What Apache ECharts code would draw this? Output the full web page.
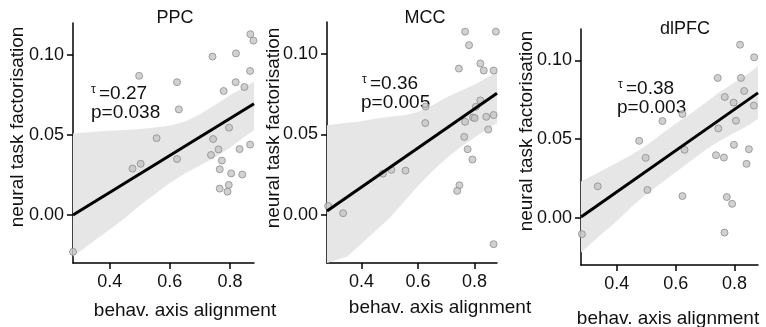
<!DOCTYPE html>
<html>
<head>
<meta charset="utf-8">
<script src="https://cdn.jsdelivr.net/npm/echarts@6/dist/echarts.min.js"></script>
<style>
html, body { margin: 0; padding: 0; background: #fff; }
#chart { width: 766px; height: 327px; }
</style>
</head>
<body>
<div id="chart"></div>
<script>
// axis ticks
const xTicks = [0.4, 0.6, 0.8];
const yTicks = [0, 0.05, 0.1];

// scatter points (behav. axis alignment, neural task factorisation)
const ppcX = [0.278, 0.476, 0.503, 0.498, 0.556, 0.624, 0.630, 0.624, 0.742, 0.744, 0.737, 0.762, 0.773, 0.766, 0.766,
  0.792, 0.796, 0.804, 0.779, 0.797, 0.820, 0.819, 0.848, 0.832, 0.841, 0.867, 0.867, 0.868, 0.878];
const ppcY = [-0.023, 0.029, 0.032, 0.087, 0.048, 0.083, 0.066, 0.035, 0.099, 0.0475, 0.0375, 0.041, 0.034, 0.0286, 0.0165,
  0.0146, 0.0188, 0.026, 0.0775, 0.0546, 0.101, 0.083, 0.080, 0.0412, 0.0253, 0.090, 0.044, 0.113, 0.109];

const mccX = [0.282, 0.335, 0.476, 0.506, 0.556, 0.626, 0.627, 0.745, 0.767, 0.781, 0.767, 0.764, 0.776, 0.793,
  0.747, 0.739, 0.795, 0.801, 0.805, 0.821, 0.821, 0.833, 0.842, 0.849, 0.868, 0.868, 0.876, 0.868];
const mccY = [0.0055, 0.001, 0.0256, 0.028, 0.0275, 0.0571, 0.0674, 0.091, 0.114, 0.1056, 0.0579, 0.0485, 0.0408, 0.0344,
  0.0184, 0.0149, 0.0606, 0.0602, 0.0672, 0.0712, 0.0942, 0.0898, 0.061, 0.0531, 0.0621, 0.0898, 0.114, -0.0183];

const dlpfcX = [0.281, 0.335, 0.476, 0.498, 0.504, 0.555, 0.623, 0.630, 0.623, 0.743, 0.745, 0.737, 0.764, 0.767,
  0.774, 0.792, 0.766, 0.797, 0.805, 0.798, 0.819, 0.822, 0.833, 0.849, 0.841, 0.867, 0.866];
const dlpfcY = [-0.0104, 0.020, 0.0489, 0.0381, 0.0177, 0.0615, 0.066, 0.0432, 0.0138, 0.0889, 0.0568, 0.0398, 0.0383, 0.0768,
  0.0132, 0.0089, -0.0094, 0.0732, 0.0617, 0.0464, 0.110, 0.0889, 0.0806, 0.0436, 0.0343, 0.102, 0.0713];

// regression line ends
const fitX = [0.278, 0.88];
const ppcFit = [0.0, 0.0695];
const mccFit = [0.0023, 0.0756];
const dlpfcFit = [0.0005, 0.0794];

// confidence band
const bandX = [0.278, 0.35, 0.4, 0.45, 0.5, 0.55, 0.6, 0.65, 0.7, 0.75, 0.8, 0.85, 0.88];
const ppcLower = [-0.026, -0.016, -0.009, -0.002, 0.006, 0.013, 0.020, 0.026, 0.031, 0.036, 0.042, 0.049, 0.053];
const ppcUpper = [0.051, 0.052, 0.0527, 0.0532, 0.0538, 0.0547, 0.0558, 0.0583, 0.063, 0.0687, 0.0748, 0.0802, 0.0835];
const mccLower = [-0.036, -0.026, -0.018, -0.010, -0.002, 0.008, 0.018, 0.027, 0.035, 0.042, 0.048, 0.054, 0.057];
const mccUpper = [0.0558, 0.0573, 0.0583, 0.0598, 0.061, 0.062, 0.064, 0.068, 0.073, 0.077, 0.081, 0.086, 0.089];
const dlpfcLower = [-0.022, -0.010, -0.002, 0.007, 0.015, 0.022, 0.029, 0.036, 0.043, 0.049, 0.054, 0.059, 0.063];
const dlpfcUpper = [0.023, 0.030, 0.035, 0.040, 0.046, 0.053, 0.060, 0.066, 0.073, 0.080, 0.086, 0.092, 0.0965];

const titles = ['PPC', 'MCC', 'dlPFC'];
const tauVals = ['0.27', '0.36', '0.38'];
const pVals = ['0.038', '0.005', '0.003'];

const FONT = '"Liberation Sans", Arial, sans-serif';
const INK = '#111';

const panels = [
  { x: ppcX, y: ppcY, fit: ppcFit, lo: ppcLower, hi: ppcUpper,
    grid: { left: 73, top: 23, width: 181, height: 240 },
    title: [175, 18], yName: [18, 127], xName: [185, 311], tau: [91, 94], p: [91, 113] },
  { x: mccX, y: mccY, fit: mccFit, lo: mccLower, hi: mccUpper,
    grid: { left: 327, top: 22, width: 170, height: 241 },
    title: [425, 18], yName: [274, 128], xName: [440, 308], tau: [362, 84], p: [361, 103] },
  { x: dlpfcX, y: dlpfcY, fit: dlpfcFit, lo: dlpfcLower, hi: dlpfcUpper,
    grid: { left: 581, top: 29, width: 177, height: 236 },
    title: [685, 29], yName: [527, 131], xName: [668, 319], tau: [618, 89], p: [617, 108] }
];

const axisLineStyle = { color: '#000', width: 1.5 };

function bandRenderer(lo, hi) {
  return function (params, api) {
    const pts = [];
    for (let i = 0; i < bandX.length; i++) pts.push(api.coord([bandX[i], hi[i]]));
    for (let i = bandX.length - 1; i >= 0; i--) pts.push(api.coord([bandX[i], lo[i]]));
    const cs = params.coordSys;
    return {
      type: 'polygon',
      shape: { points: echarts.graphic.clipPointsByRect(pts, cs) },
      style: { fill: '#e6e6e6' }
    };
  };
}

const grid = [], xAxis = [], yAxis = [], series = [], graphic = [];

panels.forEach((p, i) => {
  grid.push(p.grid);
  xAxis.push({
    gridIndex: i, type: 'value', min: 0.278, max: 0.88,
    axisLine: { onZero: false, lineStyle: axisLineStyle },
    axisTick: { length: 6, lineStyle: axisLineStyle, customValues: xTicks },
    axisLabel: { customValues: xTicks, formatter: v => v.toFixed(1), fontSize: 18, color: INK, fontFamily: FONT, margin: 10 },
    splitLine: { show: false }
  });
  yAxis.push({
    gridIndex: i, type: 'value', min: -0.03, max: 0.12,
    axisLine: { onZero: false, lineStyle: axisLineStyle },
    axisTick: { length: 6, lineStyle: axisLineStyle, customValues: yTicks },
    axisLabel: { customValues: yTicks, formatter: v => v.toFixed(2), fontSize: 18, color: INK, fontFamily: FONT, margin: 9 },
    splitLine: { show: false }
  });
  series.push({
    type: 'custom', xAxisIndex: i, yAxisIndex: i, z: 1, silent: true,
    renderItem: bandRenderer(p.lo, p.hi),
    data: [[bandX[0], p.lo[0]]]
  });
  series.push({
    type: 'scatter', xAxisIndex: i, yAxisIndex: i, z: 2,
    symbolSize: 7,
    itemStyle: { color: '#c6c6c6', borderColor: '#8c8c8c', borderWidth: 1 },
    data: p.x.map((x, k) => [x, p.y[k]])
  });
  series.push({
    type: 'line', xAxisIndex: i, yAxisIndex: i, z: 3,
    showSymbol: false, silent: true,
    lineStyle: { color: '#000', width: 3 },
    data: fitX.map((x, k) => [x, p.fit[k]])
  });

  const txt = (x, y, text, size, extra) => Object.assign({
    type: 'text', x: x, y: y,
    style: { text: text, fontSize: size, fontFamily: FONT, fill: INK, align: 'center', verticalAlign: 'middle' }
  }, extra || {});

  graphic.push(txt(p.title[0], p.title[1], titles[i], 18));
  graphic.push(txt(p.yName[0], p.yName[1], 'neural task factorisation', 19, { rotation: Math.PI / 2 }));
  graphic.push(txt(p.xName[0], p.xName[1], 'behav. axis alignment', 19));
  const tau = txt(p.tau[0], p.tau[1] - 4, 'τ', 12);
  tau.style.align = 'left';
  graphic.push(tau);
  const tv = txt(p.tau[0] + 8, p.tau[1], '=' + tauVals[i], 19);
  tv.style.align = 'left';
  graphic.push(tv);
  const pv = txt(p.p[0], p.p[1], 'p=' + pVals[i], 19);
  pv.style.align = 'left';
  graphic.push(pv);
});

const chart = echarts.init(document.getElementById('chart'));
chart.setOption({
  animation: false,
  grid: grid,
  xAxis: xAxis,
  yAxis: yAxis,
  series: series,
  graphic: graphic
});
</script>
</body>
</html>
